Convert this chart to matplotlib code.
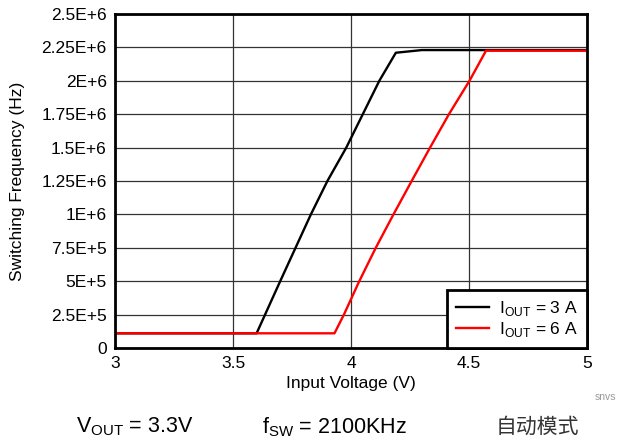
import matplotlib.pyplot as plt

# Input voltage (V) and switching frequency (Hz)
vin_3a = [3.0, 3.6, 3.7, 3.83, 3.9, 3.98, 4.05, 4.12, 4.19, 4.3, 5.0]
fsw_3a = [110000, 110000, 500000, 1000000, 1250000, 1500000, 1750000, 2000000, 2210000, 2230000, 2230000]

vin_6a = [3.0, 3.93, 3.97, 4.035, 4.105, 4.18, 4.257, 4.335, 4.415, 4.502, 4.572, 5.0]
fsw_6a = [110000, 110000, 250000, 500000, 750000, 1000000, 1250000, 1500000, 1750000, 2000000, 2225000, 2225000]

x_ticks = [3, 3.5, 4, 4.5, 5]
x_labels = ['3', '3.5', '4', '4.5', '5']
y_ticks = [0, 250000, 500000, 750000, 1000000, 1250000, 1500000, 1750000, 2000000, 2250000, 2500000]
y_labels = ['0', '2.5E+5', '5E+5', '7.5E+5', '1E+6', '1.25E+6', '1.5E+6', '1.75E+6', '2E+6', '2.25E+6', '2.5E+6']

plt.rcParams['font.family'] = ['Liberation Sans', 'DejaVu Sans']

fig = plt.figure(figsize=(6.26, 4.48), dpi=100)
ax = fig.add_axes([115 / 626, 100 / 448, 472 / 626, 334 / 448])

ax.plot(vin_3a, fsw_3a, color='black', lw=1.7, label='I$_{\\mathregular{OUT}}$ = 3 A')
ax.plot(vin_6a, fsw_6a, color='red', lw=1.7, label='I$_{\\mathregular{OUT}}$ = 6 A')

ax.set_xlim(3, 5)
ax.set_ylim(0, 2500000)
ax.set_xticks(x_ticks)
ax.set_xticklabels(x_labels)
ax.set_yticks(y_ticks)
ax.set_yticklabels(y_labels)
ax.tick_params(length=0, labelsize=12.5, pad=6)
ax.grid(True, color='#333333', lw=0.9)
ax.set_axisbelow(True)
for s in ax.spines.values():
    s.set_linewidth(2)

ax.set_xlabel('Input Voltage (V)', fontsize=12.5, labelpad=3)
ax.set_ylabel('Switching Frequency (Hz)', fontsize=12.5)
ax.yaxis.set_label_coords(-0.19, 0.5)

leg = ax.legend(loc='lower right', fontsize=12.5, frameon=True, fancybox=False,
                borderaxespad=0, handlelength=1.9, handletextpad=0.6,
                labelspacing=0.15, borderpad=0.5)
leg.get_frame().set_edgecolor('black')
leg.get_frame().set_linewidth(2)
leg.get_frame().set_alpha(1)

fig.text(605 / 626, 1 - 397 / 448, 'snvs', fontsize=7.5, color='#999999', ha='center', va='center')
fig.text(135 / 626, 1 - 427 / 448, 'V$_{\\mathregular{OUT}}$ = 3.3V', fontsize=15.5, ha='center', va='center')
fig.text(334 / 626, 1 - 427 / 448, 'f$_{\\mathregular{SW}}$ = 2100KHz', fontsize=15.5, ha='center', va='center')
fig.text(537 / 626, 1 - 427 / 448, '自动模式', fontsize=15, ha='center', va='center',
         family=['Noto Sans CJK SC', 'DejaVu Sans'], color='#333333')

fig.savefig('out.png', dpi=100)
